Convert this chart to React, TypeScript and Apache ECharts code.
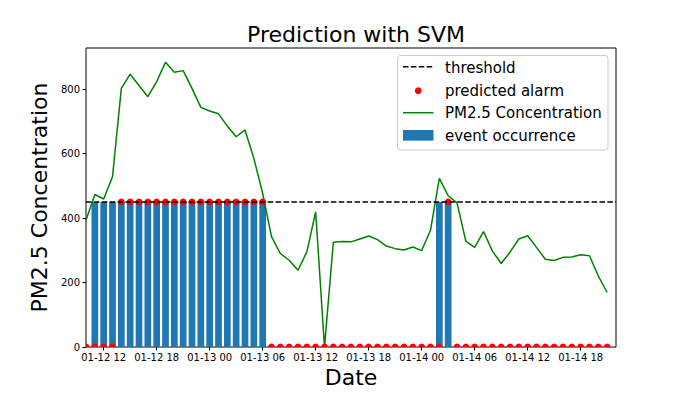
import { useEffect, useRef } from 'react';
import * as echarts from 'echarts';

// Hourly samples starting 01-12 10:00 (x = hours since 01-12 00:00)
const START_HOUR = 10;
const X_MIN = 10;
const X_MAX = 70;
const THRESHOLD = 450;

const pm25 = [
  393, 473, 459, 528, 802, 846, 811, 776, 823, 883, 852, 857, 802, 743,
  732, 723, 685, 652, 673, 585, 476, 342, 290, 269, 238, 295, 419, 0, 325, 327, 326, 335, 344, 333, 313, 305, 301, 310,
  299, 362, 523, 469, 447, 328, 309, 358, 298, 259, 294, 335, 345, 309, 272, 268, 278, 279, 286, 283, 220, 169,
];

const eventOccurrence = [
  0, 1, 1, 1, 1, 1, 1, 1, 1, 1, 1, 1, 1, 1,
  1, 1, 1, 1, 1, 1, 1, 0, 0, 0, 0, 0, 0, 0, 0, 0, 0, 0, 0, 0, 0, 0, 0, 0,
  0, 0, 1, 1, 0, 0, 0, 0, 0, 0, 0, 0, 0, 0, 0, 0, 0, 0, 0, 0, 0, 0,
];

const predictedAlarm = [
  0, 0, 0, 0, 1, 1, 1, 1, 1, 1, 1, 1, 1, 1,
  1, 1, 1, 1, 1, 1, 1, 0, 0, 0, 0, 0, 0, 0, 0, 0, 0, 0, 0, 0, 0, 0, 0, 0,
  0, 0, 0, 1, 0, 0, 0, 0, 0, 0, 0, 0, 0, 0, 0, 0, 0, 0, 0, 0, 0, 0,
];

const xTickHours = [12, 18, 24, 30, 36, 42, 48, 54, 60, 66];
const yTicks = [0, 200, 400, 600, 800];

const legendLabels = ['threshold', 'predicted alarm', 'PM2.5 Concentration', 'event occurrence'];

const FONT = 'DejaVu Sans';
const BLUE = '#1f77b4';
const GREEN = '#008000';
const RED = '#ff0000';

function fmtHour(v: number): string {
  const day = 12 + Math.floor(v / 24);
  const hh = v % 24;
  return `01-${day} ${hh < 10 ? '0' + hh : hh}`;
}

export default function App() {
  const ref = useRef<HTMLDivElement>(null);
  useEffect(() => {
    document.body.style.margin = '0';
    const chart = echarts.init(ref.current!, null, { renderer: 'svg' });
    const hours = pm25.map((_, i) => START_HOUR + i);
    const yMax = Math.max(...pm25) * 1.05;

    const legendX = 397.5;
    const legendY = 55.5;
    const rowY = [67.5, 90.5, 113, 136];
    const handleX0 = 403;
    const handleX1 = 433.5;
    const textX = 445;

    chart.setOption({
      animation: false,
      textStyle: { fontFamily: FONT },
      title: {
        text: 'Prediction with SVM',
        left: 351,
        top: 18,
        textAlign: 'center',
        textStyle: { fontSize: 22, fontWeight: 'normal', color: '#000', fontFamily: FONT },
      },
      grid: {
        left: 86, top: 48, width: 530, height: 299,
        show: true, borderColor: '#000', borderWidth: 1, backgroundColor: 'transparent',
      },
      xAxis: {
        type: 'value', min: X_MIN, max: X_MAX,
        name: 'Date', nameLocation: 'middle', nameGap: 19,
        nameTextStyle: { fontSize: 22, color: '#000', fontFamily: FONT },
        axisLine: { show: false },
        axisTick: { show: true, length: 3.5, customValues: xTickHours, lineStyle: { color: '#000', width: 1 } },
        axisLabel: { customValues: xTickHours, formatter: (v: number) => fmtHour(v), fontSize: 10, color: '#000', margin: 5, fontFamily: FONT },
        splitLine: { show: false },
      },
      yAxis: {
        type: 'value', min: 0, max: yMax,
        name: 'PM2.5 Concentration', nameLocation: 'middle', nameGap: 29, nameRotate: 90,
        nameTextStyle: { fontSize: 22, color: '#000', fontFamily: FONT },
        axisLine: { show: false },
        axisTick: { show: true, length: 3.5, customValues: yTicks, lineStyle: { color: '#000', width: 1 } },
        axisLabel: { customValues: yTicks, fontSize: 10, color: '#000', margin: 6, fontFamily: FONT },
        splitLine: { show: false },
      },
      series: [
        {
          type: 'bar', name: 'event occurrence',
          data: eventOccurrence.map((e, i) => [hours[i], e * THRESHOLD]),
          barWidth: 6.7, itemStyle: { color: BLUE }, z: 1,
        },
        {
          type: 'line', name: 'threshold', data: [], z: 2,
          markLine: {
            silent: true, symbol: ['none', 'none'], label: { show: false },
            lineStyle: { type: [5.5, 2.4], color: '#000', width: 1.5 },
            data: [{ yAxis: THRESHOLD }],
          },
        },
        {
          type: 'line', name: 'PM2.5 Concentration',
          data: pm25.map((v, i) => [hours[i], v]),
          showSymbol: false, symbol: 'none',
          lineStyle: { color: GREEN, width: 1.5 }, itemStyle: { color: GREEN }, z: 3,
        },
        {
          type: 'custom', name: 'predicted alarm', clip: true, z: 4,
          data: predictedAlarm.map((p, i) => [hours[i], p * THRESHOLD]),
          encode: { x: 0, y: 1 },
          renderItem: (_params: any, api: any) => {
            const pt = api.coord([api.value(0), api.value(1)]);
            return { type: 'circle', shape: { cx: pt[0], cy: pt[1], r: 3.4 }, style: { fill: RED } };
          },
        },
      ],
      graphic: [
        {
          type: 'rect', z: 100,
          shape: { x: legendX, y: legendY, width: 210.5, height: 94.5, r: 3 },
          style: { fill: 'rgba(255,255,255,0.8)', stroke: '#cccccc', lineWidth: 1 },
        },
        {
          type: 'line', z: 101,
          shape: { x1: handleX0, y1: 66.7, x2: handleX1, y2: 66.7 },
          style: { stroke: '#000', lineWidth: 1.5, lineDash: [5.5, 2.4] },
        },
        {
          type: 'circle', z: 101,
          shape: { cx: (handleX0 + handleX1) / 2, cy: 90.7, r: 3.4 },
          style: { fill: RED },
        },
        {
          type: 'line', z: 101,
          shape: { x1: handleX0, y1: 112.7, x2: handleX1, y2: 112.7 },
          style: { stroke: GREEN, lineWidth: 1.5 },
        },
        {
          type: 'rect', z: 101,
          shape: { x: handleX0, y: 130, width: handleX1 - handleX0, height: 10.6 },
          style: { fill: BLUE },
        },
        ...legendLabels.map((t, i) => ({
          type: 'text', z: 101,
          x: textX, y: rowY[i],
          style: { text: t, fill: '#000', font: `15px "${FONT}"`, verticalAlign: 'middle', align: 'left' },
        })),
      ],
    });
    return () => chart.dispose();
  }, []);
  return <div ref={ref} style={{ width: 684, height: 396, position: 'absolute', left: 0, top: 0 }} />;
}
